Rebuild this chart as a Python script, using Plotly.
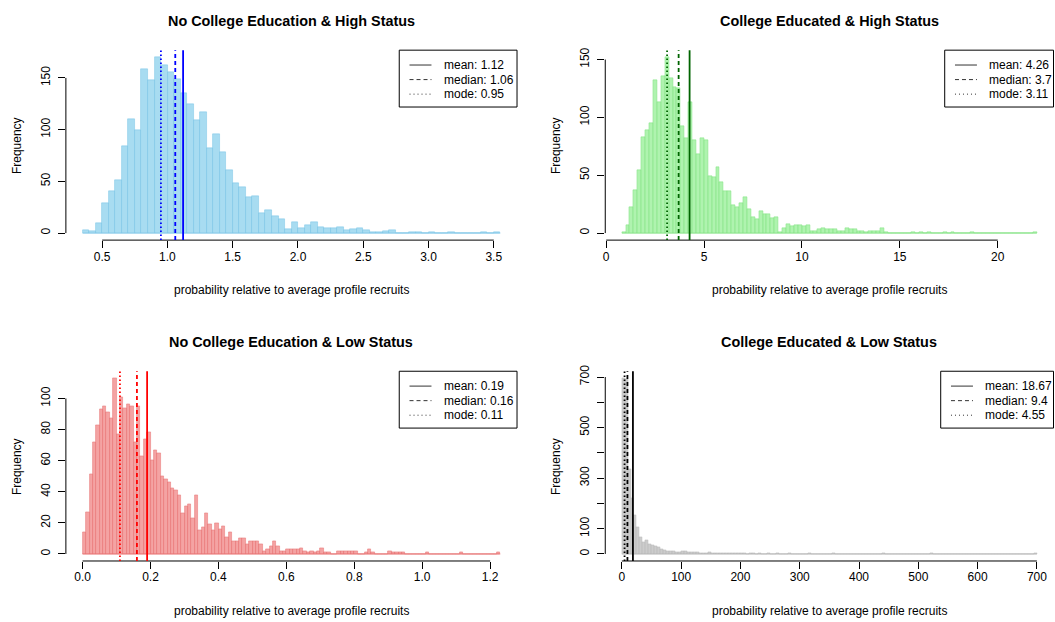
import plotly.graph_objects as go

W, H = 1055, 622

titles = ["No College Education & High Status", "College Educated & High Status",
          "No College Education & Low Status", "College Educated & Low Status"]
x_label = "probability relative to average profile recruits"
y_label = "Frequency"

# histogram bins: first break and bin width per panel
bin_start = [0.35, 0.8, 0.0, 0.0]
bin_width = [0.05, 0.2, 0.01, 5.0]

counts_nc_high = [3, 2, 10, 29, 41, 51, 84, 110, 99, 158,
                  148, 170, 162, 156, 149, 135, 125, 109, 117, 82,
                  96, 78, 61, 48, 44, 35, 36, 19, 22, 16,
                  13, 4, 11, 5, 8, 11, 6, 5, 5, 6,
                  3, 4, 5, 3, 1, 1, 2, 3, 0, 0,
                  1, 1, 0, 1, 0, 0, 1, 0, 0, 0,
                  0, 1, 0, 1]

counts_c_high = [1, 7, 22, 37, 54, 83, 89, 95, 132, 113,
                 136, 152, 134, 126, 125, 92, 82, 113, 80, 68,
                 82, 80, 49, 48, 57, 44, 36, 36, 24, 22,
                 26, 31, 21, 14, 12, 19, 16, 16, 13, 14,
                 1, 4, 8, 6, 7, 7, 6, 7, 2, 2,
                 3, 4, 3, 3, 3, 2, 2, 4, 3, 3,
                 2, 2, 1, 2, 2, 2, 4, 1, 0, 0,
                 0, 0, 0, 0, 1, 0, 1, 0, 1, 0,
                 0, 0, 1, 0, 1, 0, 0, 0, 0, 1,
                 0, 0, 0, 0, 0, 0, 0, 0, 0, 0,
                 0, 0, 0, 0, 0, 1]

counts_nc_low = [14, 27, 51, 72, 83, 93, 95, 91, 87, 113,
                 77, 101, 94, 96, 95, 72, 95, 63, 74, 78,
                 60, 67, 65, 50, 48, 46, 42, 41, 38, 26,
                 31, 32, 23, 38, 15, 17, 26, 19, 15, 20,
                 16, 18, 11, 14, 8, 8, 10, 10, 6, 8,
                 8, 8, 6, 2, 3, 5, 8, 5, 2, 2,
                 3, 3, 3, 3, 4, 2, 1, 2, 1, 2,
                 4, 1, 1, 0, 0, 2, 2, 2, 2, 2,
                 2, 0, 0, 1, 3, 1, 0, 0, 0, 0,
                 2, 1, 1, 1, 1, 0, 0, 0, 0, 0,
                 0, 1, 0, 0, 0, 0, 0, 0, 0, 0,
                 0, 1, 0, 0, 0, 0, 0, 0, 0, 0,
                 0, 0, 1]

counts_c_low = [695, 690, 334, 222, 153, 105, 68, 48, 56, 37,
                33, 29, 25, 17, 13, 9, 9, 9, 8, 8,
                9, 9, 8, 5, 5, 6, 4, 4, 3, 8,
                3, 3, 2, 3, 2, 2, 2, 1, 2, 1,
                1, 1, 0, 1, 1, 0, 1, 0, 0, 1,
                0, 0, 1, 0, 0, 0, 1, 0, 0, 0,
                0, 0, 0, 1, 0, 0, 0, 0, 0, 0,
                0, 1, 0, 0, 0, 0, 0, 0, 0, 0,
                0, 0, 0, 0, 0, 0, 0, 0, 1, 0,
                0, 0, 0, 0, 0, 0, 0, 0, 0, 0,
                0, 0, 0, 0, 1, 0, 0, 0, 0, 0,
                0, 0, 0, 0, 0, 0, 0, 0, 0, 0,
                0, 0, 0, 0, 0, 0, 0, 0, 0, 0,
                0, 0, 0, 0, 0, 0, 0, 0, 0, 1]

stat_mean = [1.12, 4.26, 0.19, 18.67]
stat_median = [1.06, 3.7, 0.16, 9.4]
stat_mode = [0.95, 3.11, 0.11, 4.55]

x_tickvals = [[0.5, 1.0, 1.5, 2.0, 2.5, 3.0, 3.5],
              [0, 5, 10, 15, 20],
              [0.0, 0.2, 0.4, 0.6, 0.8, 1.0, 1.2],
              [0, 100, 200, 300, 400, 500, 600, 700]]
x_ticktext = [["0.5", "1.0", "1.5", "2.0", "2.5", "3.0", "3.5"],
              ["0", "5", "10", "15", "20"],
              ["0.0", "0.2", "0.4", "0.6", "0.8", "1.0", "1.2"],
              ["0", "100", "200", "300", "400", "500", "600", "700"]]
y_tickvals = [[0, 50, 100, 150],
              [0, 50, 100, 150],
              [0, 20, 40, 60, 80, 100],
              [0, 100, 200, 300, 400, 500, 600, 700]]
y_ticktext = [["0", "50", "100", "150"],
              ["0", "50", "100", "150"],
              ["0", "20", "40", "60", "80", "100"],
              ["0", "100", "", "300", "", "500", "", "700"]]

all_counts = [counts_nc_high, counts_c_high, counts_nc_low, counts_c_low]

# styling
fill_colors = ["rgba(135,206,235,0.72)", "rgba(144,238,144,0.72)",
               "rgba(240,128,128,0.72)", "rgba(190,190,190,0.78)"]
edge_colors = ["rgba(120,196,230,0.85)", "rgba(130,228,130,0.85)",
               "rgba(232,112,112,0.85)", "rgba(185,185,185,0.85)"]
stat_colors = ["#0000FF", "#006400", "#FF0000", "#000000"]
legend_widths = [118, 109, 118, 113]
DOT = "1.5px,2.5px"
DASH = "4px,3px"

col_px = [(64.0, 516.0), (604.4, 1053.5)]
row_px = [(44.6, 236.4), (368.8, 560.4)]
title_y_px = [15, 339]
xlab_y_px = [287, 611]
ylab_x_px = [15, 555]

FONT = "Liberation Sans, Arial, Helvetica, sans-serif"
BASE = 12


def px_x(px):
    return px / W


def px_y(py):
    return 1 - py / H


fig = go.Figure()
layout = dict(
    width=W, height=H, margin=dict(l=0, r=0, t=0, b=0),
    paper_bgcolor="white", plot_bgcolor="white",
    showlegend=False, bargap=0, barmode="overlay",
    font=dict(family=FONT, size=BASE, color="black"),
)
shapes = []
annotations = []

for p in range(4):
    r, c = divmod(p, 2)
    n = p + 1
    xa = "x" if n == 1 else f"x{n}"
    ya = "y" if n == 1 else f"y{n}"
    counts = all_counts[p]
    nb = len(counts)
    x0 = bin_start[p]
    w = bin_width[p]
    x1 = x0 + w * nb
    centers = [x0 + w * (i + 0.5) for i in range(nb)]
    fig.add_trace(go.Bar(
        x=centers, y=counts, width=w, xaxis=xa, yaxis=ya,
        marker=dict(color=fill_colors[p], line=dict(color=edge_colors[p], width=0.6)),
        hoverinfo="x+y",
    ))
    # baseline drawn by empty bins (R hist draws borders for zero-count bins)
    shapes.append(dict(type="line", xref=xa, yref=ya, x0=x0, x1=x1, y0=0, y1=0,
                       line=dict(color=edge_colors[p], width=1), layer="below"))

    pad = 0.04 * (x1 - x0)
    ymax = max(counts)
    xd = [px_x(col_px[c][0]), px_x(col_px[c][1])]
    yd = [px_y(row_px[r][1]), px_y(row_px[r][0])]
    axis_common = dict(showgrid=False, zeroline=False, showline=False,
                       ticks="outside", ticklen=7, tickwidth=1, tickcolor="black",
                       tickfont=dict(family=FONT, size=BASE, color="black"),
                       fixedrange=True)
    layout["xaxis" if n == 1 else f"xaxis{n}"] = dict(
        domain=xd, range=[x0 - pad, x1 + pad], anchor=ya,
        tickmode="array", tickvals=x_tickvals[p], ticktext=x_ticktext[p],
        ticklabelstandoff=-2, **axis_common)
    layout["yaxis" if n == 1 else f"yaxis{n}"] = dict(
        domain=yd, range=[-0.04 * ymax, 1.04 * ymax], anchor=xa,
        tickmode="array", tickvals=y_tickvals[p], ticktext=y_ticktext[p],
        tickangle=-90, ticklabelstandoff=3, **axis_common)

    # R-style axis lines spanning first to last tick
    shapes.append(dict(type="line", xref=xa, yref=f"{ya} domain",
                       x0=x_tickvals[p][0], x1=x_tickvals[p][-1], y0=0, y1=0,
                       line=dict(color="black", width=1)))
    shapes.append(dict(type="line", xref=f"{xa} domain", yref=ya,
                       x0=0, x1=0, y0=y_tickvals[p][0], y1=y_tickvals[p][-1],
                       line=dict(color="black", width=1)))

    # mean / median / mode vertical lines
    for val, dash in [(stat_mode[p], DOT), (stat_median[p], DASH), (stat_mean[p], "solid")]:
        shapes.append(dict(type="line", xref=xa, yref=f"{ya} domain",
                           x0=val, x1=val, y0=0, y1=1,
                           line=dict(color=stat_colors[p], width=1.8, dash=dash)))

    # titles and axis labels
    cx = (col_px[c][0] + col_px[c][1]) / 2
    annotations.append(dict(text=f"<b>{titles[p]}</b>", xref="paper", yref="paper",
                            x=px_x(cx), y=px_y(title_y_px[r]), showarrow=False,
                            xanchor="center", yanchor="middle",
                            font=dict(family=FONT, size=14.4, color="black")))
    annotations.append(dict(text=x_label, xref="paper", yref="paper",
                            x=px_x(cx), y=px_y(xlab_y_px[r]), showarrow=False,
                            xanchor="center", yanchor="middle",
                            font=dict(family=FONT, size=BASE, color="black")))
    cy = (row_px[r][0] + row_px[r][1]) / 2
    annotations.append(dict(text=y_label, xref="paper", yref="paper",
                            x=px_x(ylab_x_px[c]), y=px_y(cy), showarrow=False,
                            xanchor="center", yanchor="middle", textangle=-90,
                            font=dict(family=FONT, size=BASE, color="black")))

    # legend box (R legend, topright)
    bx1 = col_px[c][1]
    bx0 = bx1 - legend_widths[p]
    by0 = row_px[r][0]
    by1 = by0 + 57.4
    shapes.append(dict(type="rect", xref="paper", yref="paper",
                       x0=px_x(bx0), x1=px_x(bx1), y0=px_y(by1), y1=px_y(by0),
                       line=dict(color="black", width=1), fillcolor="white"))
    entries = [(f"mean: {stat_mean[p]}", "solid"),
               (f"median: {stat_median[p]}", DASH),
               (f"mode: {stat_mode[p]}", "1px,3px")]
    for k, (txt, dash) in enumerate(entries):
        ly = by0 + 15 + 14.7 * k
        shapes.append(dict(type="line", xref="paper", yref="paper",
                           x0=px_x(bx0 + 10.3), x1=px_x(bx0 + 32.3),
                           y0=px_y(ly), y1=px_y(ly),
                           line=dict(color="#333333", width=1, dash=dash)))
        annotations.append(dict(text=txt, xref="paper", yref="paper",
                                x=px_x(bx0 + 42.5), y=px_y(ly), showarrow=False,
                                xanchor="left", yanchor="middle",
                                font=dict(family=FONT, size=BASE, color="black")))

layout["shapes"] = shapes
layout["annotations"] = annotations
fig.update_layout(**layout)
fig.write_html("out.html")
